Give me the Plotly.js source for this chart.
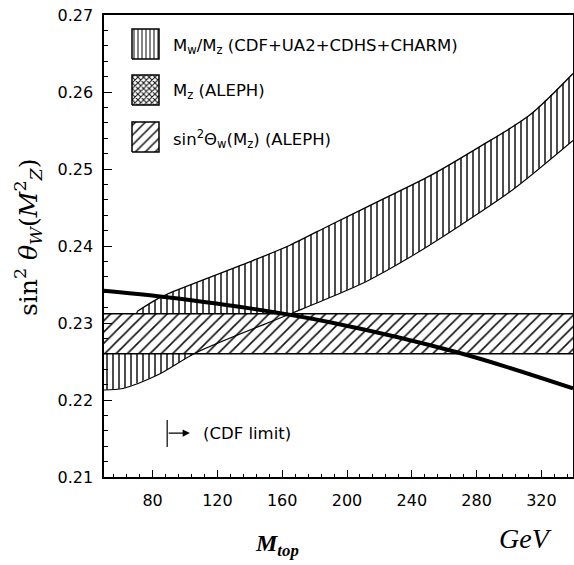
<!DOCTYPE html>
<html>
<head>
<meta charset="utf-8">
<script src="https://cdn.plot.ly/plotly-3.0.1.min.js"></script>
<style>html,body{margin:0;padding:0;background:#fff;}#chart{width:574px;height:565px;}</style>
</head>
<body>
<div id="chart"></div>
<script>
// ---- data ----
// M_W/M_Z band (CDF+UA2+CDHS+CHARM): upper and lower edges
const mtopUpper = [50, 70.4, 82.7, 89.5, 141.9, 164.7, 189.4, 220.3, 251.1, 282.0, 312.8, 339.5];
const s2wUpper  = [0.2293, 0.2315, 0.2331, 0.2338, 0.2381, 0.2401, 0.2427, 0.2459, 0.2491, 0.2529, 0.2570, 0.2624];
const mtopLower = [50, 61.7, 82.7, 107.4, 162.9, 189.4, 212.9, 236.9, 271.5, 302.3, 339.5];
const s2wLower  = [0.2213, 0.2215, 0.2232, 0.2262, 0.2310, 0.2333, 0.2355, 0.2383, 0.2429, 0.2473, 0.2537];
// M_Z (ALEPH) narrow band (thick line)
const mtopMz = [50, 78.4, 140.1, 189.4, 269.6, 339.5];
const s2wMz  = [0.2342, 0.2336, 0.2319, 0.2301, 0.2261, 0.2215];
// sin^2 theta_W(M_Z) (ALEPH) band
const mtopAleph  = [50, 339.5];
const s2wAlephLo = [0.2260, 0.2260];
const s2wAlephHi = [0.2312, 0.2312];
// CDF limit on m_top
const cdfLimit = 89;
// tick labels
const xTickVals = [80, 120, 160, 200, 240, 280, 320];
const yTickVals = [0.21, 0.22, 0.23, 0.24, 0.25, 0.26, 0.27];
const legendLabels = [
  'M<sub>w</sub>/M<sub>z</sub> (CDF+UA2+CDHS+CHARM)',
  'M<sub>z</sub> (ALEPH)',
  'sin<sup>2</sup>Θ<sub>w</sub>(M<sub>z</sub>) (ALEPH)'
];

// ---- layout helpers (pixel -> paper) ----
const L = 104, R = 573, T = 15, B = 477;
const px = v => (v - L) / (R - L);
const py = v => (B - v) / (B - T);

const bandX = mtopUpper.concat(mtopLower.slice().reverse());
const bandY = s2wUpper.concat(s2wLower.slice().reverse());
const alephX = mtopAleph.concat(mtopAleph.slice().reverse());
const alephY = s2wAlephLo.concat(s2wAlephHi.slice().reverse());

const traces = [];
traces.push({x: bandX, y: bandY, type: 'scatter', mode: 'none', fill: 'toself',
  fillcolor: 'rgba(0,0,0,0)',
  fillpattern: {shape: '|', size: 6, solidity: 0.25, fgcolor: '#111', bgcolor: 'white'},
  hoverinfo: 'skip', showlegend: false});
traces.push({x: alephX, y: alephY, type: 'scatter', mode: 'none', fill: 'toself',
  fillcolor: 'rgba(0,0,0,0)',
  fillpattern: {shape: '/', size: 8, solidity: 0.2, fgcolor: '#111', bgcolor: 'white'},
  hoverinfo: 'skip', showlegend: false});
traces.push({x: mtopAleph, y: s2wAlephHi, type: 'scatter', mode: 'lines',
  line: {color: 'black', width: 1.5}, hoverinfo: 'skip', showlegend: false});
traces.push({x: mtopAleph, y: s2wAlephLo, type: 'scatter', mode: 'lines',
  line: {color: 'black', width: 1.5}, hoverinfo: 'skip', showlegend: false});
traces.push({x: mtopUpper.slice(1), y: s2wUpper.slice(1), type: 'scatter', mode: 'lines',
  line: {color: 'black', width: 1.3, shape: 'spline', smoothing: 0.8}, hoverinfo: 'skip', showlegend: false});
traces.push({x: mtopLower, y: s2wLower, type: 'scatter', mode: 'lines',
  line: {color: 'black', width: 1.1, shape: 'spline', smoothing: 0.8}, hoverinfo: 'skip', showlegend: false});
traces.push({x: mtopMz, y: s2wMz, type: 'scatter', mode: 'lines', line: {color: 'black', width: 4, shape: 'spline'},
  hoverinfo: 'skip', showlegend: false});

// legend keys on an overlay axis (0..1 of the plot area)
const keyPatterns = [
  {shape: '|', size: 4, solidity: 0.3, fgcolor: '#333', bgcolor: 'white'},
  {shape: 'x', size: 4, solidity: 0.45, fgcolor: '#111', bgcolor: 'white'},
  {shape: '/', size: 7, solidity: 0.22, fgcolor: '#111', bgcolor: 'white'}
];
const keyTops = [29, 75, 122];
const keyH = 30;
const annotations = [];
keyTops.forEach((t, i) => {
  const x0 = px(132), x1 = px(159), y0 = py(t + keyH), y1 = py(t);
  traces.push({x: [x0, x1, x1, x0, x0], y: [y0, y0, y1, y1, y0], xaxis: 'x2', yaxis: 'y2',
    type: 'scatter', mode: 'lines', fill: 'toself', fillcolor: 'rgba(0,0,0,0)',
    fillpattern: keyPatterns[i], line: {color: 'black', width: 1.5},
    hoverinfo: 'skip', showlegend: false});
  annotations.push({xref: 'paper', yref: 'paper', x: px(171), y: py(t + keyH / 2 + 2),
    xanchor: 'left', yanchor: 'middle', showarrow: false, text: legendLabels[i],
    font: {family: 'DejaVu Sans', size: 16.5, color: 'black'}});
});

annotations.push({xref: 'x', yref: 'y', x: 103, y: 0.2157, ax: cdfLimit, ay: 0.2157,
  axref: 'x', ayref: 'y', text: '', showarrow: true, arrowhead: 2, arrowsize: 1.2,
  arrowwidth: 1.2, arrowcolor: 'black'});
annotations.push({xref: 'x', yref: 'y', x: 110, y: 0.2157, xanchor: 'left', yanchor: 'middle',
  showarrow: false, text: '(CDF limit)', font: {family: 'DejaVu Sans', size: 16.5, color: 'black'}});
annotations.push({xref: 'paper', yref: 'paper', x: px(28), y: py(237), textangle: -90,
  xanchor: 'center', yanchor: 'middle', showarrow: false,
  text: 'sin<sup>2</sup> <i>θ<sub>W</sub></i>(<i>M</i><sup>2</sup><sub><i>Z</i></sub>)',
  font: {family: 'DejaVu Serif', size: 25, color: 'black'}});
annotations.push({xref: 'paper', yref: 'paper', x: px(277), y: py(545),
  xanchor: 'center', yanchor: 'middle', showarrow: false,
  text: '<b><i>M<sub>top</sub></i></b>',
  font: {family: 'Liberation Serif', size: 24, color: 'black'}});
annotations.push({xref: 'paper', yref: 'paper', x: px(525), y: py(538),
  xanchor: 'center', yanchor: 'middle', showarrow: false,
  text: '<i>GeV</i>',
  font: {family: 'Liberation Serif', size: 28, color: 'black'}});

const layout = {
  width: 574, height: 565,
  margin: {l: L, r: 574 - R, t: T, b: 565 - B, pad: 0},
  paper_bgcolor: 'white', plot_bgcolor: 'white',
  showlegend: false,
  font: {family: 'DejaVu Sans', size: 16, color: 'black'},
  xaxis: {range: [50, 339.5], tickvals: xTickVals, ticks: 'inside', ticklen: 7, tickwidth: 1,
    tickcolor: 'black', showline: true, linecolor: 'black', linewidth: 1.6, mirror: true,
    showgrid: false, zeroline: false, ticklabelstandoff: 8,
    minor: {dtick: 8, tick0: 0, ticks: 'inside', ticklen: 3, tickcolor: 'black', showgrid: false},
    tickfont: {family: 'DejaVu Sans', size: 16, color: 'black'}},
  yaxis: {range: [0.21, 0.27], tickvals: yTickVals, tickformat: '.2f', ticks: 'inside', ticklen: 8,
    tickwidth: 1, tickcolor: 'black', showline: true, linecolor: 'black', linewidth: 1.6, mirror: true,
    showgrid: false, zeroline: false, ticklabelstandoff: 6,
    minor: {dtick: 0.002, ticks: 'inside', ticklen: 4, tickcolor: 'black', showgrid: false},
    tickfont: {family: 'DejaVu Sans', size: 16, color: 'black'}},
  xaxis2: {overlaying: 'x', range: [0, 1], visible: false, fixedrange: true},
  yaxis2: {overlaying: 'y', range: [0, 1], visible: false, fixedrange: true},
  shapes: [{type: 'line', xref: 'x', yref: 'y', x0: cdfLimit, x1: cdfLimit, y0: 0.2139, y1: 0.2174,
    line: {color: 'black', width: 1.2}}],
  annotations: annotations
};

Plotly.newPlot('chart', traces, layout, {staticPlot: true, displayModeBar: false});
</script>
</body>
</html>
